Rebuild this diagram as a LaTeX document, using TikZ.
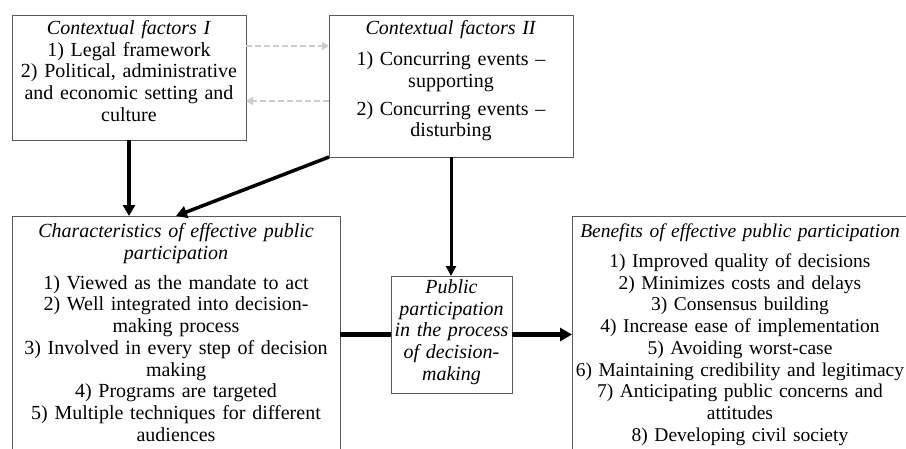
\documentclass[tikz,border=0pt]{standalone}
\usepackage{fontspec}
\setmainfont{Liberation Serif}
\usetikzlibrary{arrows.meta}
\begin{document}
\begin{tikzpicture}[x=1pt,y=-1pt,
  box/.style={draw=black!65, line width=1pt, inner sep=0pt, outer sep=0pt},
  txt/.style={inner sep=0pt, anchor=base, align=center, font=\fontsize{20}{21.7}\selectfont},
  bigarrow/.style={line width=3.5pt, -{Triangle[length=11pt,width=12pt]}},
  dasharrow/.style={draw=black!20, line width=2.4pt, dash pattern=on 6pt off 3pt, -{Triangle[length=7pt,width=8pt]}}]
\clip (0,0) rectangle (906,448);
\fill[white] (0,0) rectangle (906,448);

% boxes
\node[box, minimum width=234pt, minimum height=125pt] (cf1) at (129,77.5) {};
\node[box, minimum width=244pt, minimum height=142pt] (cf2) at (451,86) {};
\node[box, minimum width=328pt, minimum height=254pt] (ch) at (176,343) {};
\node[box, minimum width=121pt, minimum height=117pt] (pp) at (451.5,334.5) {};
\node[box, minimum width=343pt, minimum height=254pt] (ben) at (743.5,343) {};

% texts
\node[txt, text width=230pt] (t1) at (129,34.5) {\textit{Contextual factors I}\\1) Legal framework\\2) Political, administrative\\and economic setting and\\culture};
\node[txt, text width=240pt] (t2) at (451,34.5) {\textit{Contextual factors II}\\[9.3pt]1) Concurring events --\\supporting\\[6.3pt]2) Concurring events --\\disturbing};
\node[txt, text width=320pt] (t3) at (176,237.5) {\textit{Characteristics of effective public}\\\textit{participation}\\[8.3pt]1) Viewed as the mandate to act\\2) Well integrated into decision-\\making process\\3) Involved in every step of decision\\making\\4) Programs are targeted\\5) Multiple techniques for different\\audiences};
\node[txt, text width=118pt] (t4) at (451.5,293.5) {\itshape Public\\participation\\in the process\\of decision-\\making};
\node[txt, text width=340pt, font=\fontsize{19.5}{21.7}\selectfont] (t5) at (740,237.5) {\textit{Benefits of effective public participation}\\[8.3pt]1) Improved quality of decisions\\2) Minimizes costs and delays\\3) Consensus building\\4) Increase ease of implementation\\5) Avoiding worst-case\\6) Maintaining credibility and legitimacy\\7) Anticipating public concerns and\\attitudes\\8) Developing civil society};

% connectors
\coordinate (dy1) at (0,46);
\coordinate (dy2) at (0,101);
\draw[dasharrow] (cf1.east |- dy1) -- (cf2.west |- dy1);
\draw[dasharrow] (cf2.west |- dy2) -- (cf1.east |- dy2);
\draw[bigarrow] (cf1.south) -- (ch.north -| cf1.south);
\draw[bigarrow] (cf2.south west) -- (ch.north);
\draw[line width=3pt, -{Triangle[length=10pt,width=10pt]}] (cf2.south) -- (cf2.south |- pp.north);
\draw[line width=5pt] (ch.east |- pp.west) -- (pp.west);
\draw[line width=4.5pt, -{Triangle[length=12pt,width=13pt]}] (pp.east) -- (ben.west |- pp.east);
\end{tikzpicture}
\end{document}
